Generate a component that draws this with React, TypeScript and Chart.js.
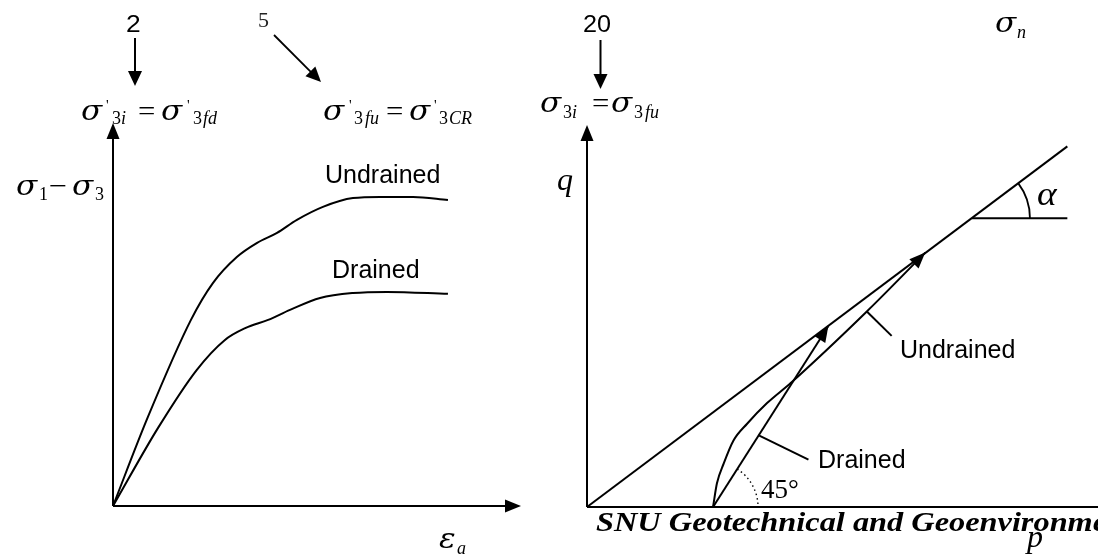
import React, { useEffect, useRef } from "react";
import { Chart, registerables } from "chart.js";

Chart.register(...registerables);

// ---- Left panel: deviator stress vs axial strain (sketch units) ----
const strainRange = [0, 10];
const deviatorRange = [0, 10];
const undrainedStrain = [0, 0.85, 1.92, 2.46, 3.05, 3.55, 4.04, 4.53, 5.17, 5.91, 6.58, 7.39, 8.25];
const undrainedDeviator = [0, 2.3, 4.86, 5.82, 6.5, 6.87, 7.13, 7.47, 7.81, 8.04, 8.07, 8.07, 7.99];
const drainedStrain = [0, 1.11, 2.06, 2.75, 3.27, 3.82, 4.36, 5.1, 5.91, 6.75, 8.25];
const drainedDeviator = [0, 2.04, 3.55, 4.33, 4.65, 4.86, 5.12, 5.43, 5.56, 5.59, 5.54];

// ---- Right panel: stress paths in p-q space (sketch units) ----
const pRange = [0, 10.5];
const qRange = [0, 5];
const failureP = [0, 9.87];
const failureQ = [0, 4.72];
const alphaRefP = [7.91, 9.87];
const alphaRefQ = [3.78, 3.78];
const drainedPathP = [2.59, 4.96];
const drainedPathQ = [0, 2.37];
const undrainedPathP = [2.59, 2.67, 2.81, 3.01, 3.29, 3.7, 4.18, 5.75, 6.95];
const undrainedPathQ = [0, 0.31, 0.57, 0.87, 1.09, 1.36, 1.62, 2.56, 3.33];
const undrainedLeaderP = [5.75, 6.26];
const undrainedLeaderQ = [2.56, 2.24];
const drainedLeaderP = [3.52, 4.55];
const drainedLeaderQ = [0.94, 0.62];

// ---- Text labels ----
const curveLabels = ["Undrained", "Drained"];
const topNumbers = ["2", "5", "20"];
const footer = "SNU Geotechnical and Geoenvironmental Engineering Lab.";

const SERIF = "'Liberation Serif', 'Times New Roman', serif";
const SANS = "'Liberation Sans', Arial, sans-serif";
const GREEK = "'DejaVu Serif', serif";

const pts = (xs: number[], ys: number[]) => xs.map((x, i) => ({ x, y: ys[i] }));

function lineDs(xs: number[], ys: number[], extra: any = {}) {
  return {
    data: pts(xs, ys),
    showLine: true,
    borderColor: "#000",
    backgroundColor: "#000",
    borderWidth: 2,
    pointRadius: 0,
    pointHoverRadius: 0,
    fill: false,
    clip: false,
    tension: 0,
    ...extra,
  };
}

function arrowHead(ctx: CanvasRenderingContext2D, tx: number, ty: number, ang: number, len = 16, half = 6.5) {
  const bx = tx - len * Math.cos(ang);
  const by = ty - len * Math.sin(ang);
  const nx = -Math.sin(ang) * half;
  const ny = Math.cos(ang) * half;
  ctx.beginPath();
  ctx.moveTo(tx, ty);
  ctx.lineTo(bx + nx, by + ny);
  ctx.lineTo(bx - nx, by - ny);
  ctx.closePath();
  ctx.fill();
}

function arrow(ctx: CanvasRenderingContext2D, x1: number, y1: number, x2: number, y2: number, len = 15, half = 7) {
  const ang = Math.atan2(y2 - y1, x2 - x1);
  ctx.beginPath();
  ctx.moveTo(x1, y1);
  ctx.lineTo(x2 - (len - 2) * Math.cos(ang), y2 - (len - 2) * Math.sin(ang));
  ctx.stroke();
  arrowHead(ctx, x2, y2, ang, len, half);
}

function txt(ctx: CanvasRenderingContext2D, s: string, x: number, y: number, font: string, color = "#000", stretch = 1) {
  ctx.save();
  ctx.font = font;
  ctx.fillStyle = color;
  ctx.textBaseline = "alphabetic";
  ctx.textAlign = "left";
  ctx.translate(x, y);
  ctx.scale(stretch, 1);
  ctx.fillText(s, 0, 0);
  ctx.restore();
}

const big = `italic 27px ${GREEK}`;
const bigS = 1.15;
const sub = `18px ${SERIF}`;
const subI = `italic 18px ${SERIF}`;
const prime = `15px ${SERIF}`;
const eq = `28px ${SERIF}`;
const letter = `italic 32px ${SERIF}`;

const leftPlugin = {
  id: "leftDecor",
  afterDraw(chart: any) {
    const { ctx, chartArea: a, scales } = chart;
    const x0 = scales.x.getPixelForValue(strainRange[0]);
    const y0 = scales.y.getPixelForValue(deviatorRange[0]);
    ctx.save();
    ctx.strokeStyle = "#000";
    ctx.fillStyle = "#000";
    ctx.lineWidth = 2;
    arrow(ctx, x0, y0, x0, a.top, 16, 6.5);
    arrow(ctx, x0, y0, a.right + 2, y0, 16, 6.5);

    // top annotations
    txt(ctx, topNumbers[0], 126, 32, `24px ${SANS}`, "#000", 1.1);
    arrow(ctx, 135, 38, 135, 86, 15, 7);
    txt(ctx, topNumbers[1], 258, 27, `20px ${SERIF}`, "#222", 1.1);
    ctx.lineWidth = 1.8;
    arrow(ctx, 274, 35, 321, 82, 15, 7);

    // sigma'_3i = sigma'_3fd
    txt(ctx, "σ", 81, 120, big, "#000", bigS);
    txt(ctx, "'", 106, 110, prime);
    txt(ctx, "3", 112, 124, sub);
    txt(ctx, "i", 121, 124, subI);
    txt(ctx, "=", 138, 120, eq, "#000", 1.1);
    txt(ctx, "σ", 161, 120, big, "#000", bigS);
    txt(ctx, "'", 187, 110, prime);
    txt(ctx, "3", 193, 124, sub);
    txt(ctx, "fd", 203, 124, subI);

    // sigma'_3fu = sigma'_3CR
    txt(ctx, "σ", 323, 120, big, "#000", bigS);
    txt(ctx, "'", 349, 110, prime);
    txt(ctx, "3", 354, 124, sub);
    txt(ctx, "fu", 365, 124, subI);
    txt(ctx, "=", 386, 120, eq, "#000", 1.1);
    txt(ctx, "σ", 409, 120, big, "#000", bigS);
    txt(ctx, "'", 434, 110, prime);
    txt(ctx, "3", 439, 124, sub);
    txt(ctx, "CR", 449, 124, subI);

    // axis titles
    txt(ctx, "σ", 16, 195, big, "#000", bigS);
    txt(ctx, "1", 39, 200, sub);
    txt(ctx, "−", 49, 195, eq, "#000", 1.15);
    txt(ctx, "σ", 72, 195, big, "#000", bigS);
    txt(ctx, "3", 95, 200, sub);
    txt(ctx, "ε", 439, 548, big, "#000", bigS);
    txt(ctx, "a", 457, 554, subI);

    // curve labels
    txt(ctx, curveLabels[0], 325, 183, `25px ${SANS}`);
    txt(ctx, curveLabels[1], 332, 278, `25px ${SANS}`);
    ctx.restore();
  },
};

const rightPlugin = {
  id: "rightDecor",
  afterDraw(chart: any) {
    const { ctx, chartArea: a, scales } = chart;
    const sx = scales.x, sy = scales.y;
    const x0 = sx.getPixelForValue(pRange[0]);
    const y0 = sy.getPixelForValue(qRange[0]);
    ctx.save();
    ctx.strokeStyle = "#000";
    ctx.fillStyle = "#000";
    ctx.lineWidth = 2;
    arrow(ctx, x0, y0, x0, a.top, 16, 6.5);
    ctx.beginPath();
    ctx.moveTo(x0, y0);
    ctx.lineTo(a.right, y0);
    ctx.stroke();

    // arrowheads at ends of stress paths
    chart.data.datasets.forEach((ds: any, i: number) => {
      if (!ds.arrowEnd) return;
      const d = chart.getDatasetMeta(i).data;
      const p1 = d[d.length - 2], p2 = d[d.length - 1];
      const ang = Math.atan2(p2.y - p1.y, p2.x - p1.x);
      arrowHead(ctx, p2.x, p2.y, ang, 16, 6.5);
    });

    // alpha arc
    const fx0 = sx.getPixelForValue(failureP[0]), fy0 = sy.getPixelForValue(failureQ[0]);
    const fx1 = sx.getPixelForValue(failureP[1]), fy1 = sy.getPixelForValue(failureQ[1]);
    const fAng = Math.atan2(fy1 - fy0, fx1 - fx0);
    const ax = sx.getPixelForValue(alphaRefP[0]), ay = sy.getPixelForValue(alphaRefQ[0]);
    ctx.lineWidth = 1.8;
    ctx.beginPath();
    ctx.arc(ax, ay, 58, fAng, 0);
    ctx.stroke();
    txt(ctx, "α", 507, 205, `italic 34px ${SERIF}`, "#000", 1.1);

    // 45 degree dotted arc
    const dx0 = sx.getPixelForValue(drainedPathP[0]), dy0 = sy.getPixelForValue(drainedPathQ[0]);
    const dx1 = sx.getPixelForValue(drainedPathP[1]), dy1 = sy.getPixelForValue(drainedPathQ[1]);
    const dAng = Math.atan2(dy1 - dy0, dx1 - dx0);
    ctx.lineWidth = 1.4;
    ctx.setLineDash([1.5, 3]);
    ctx.beginPath();
    ctx.arc(dx0, dy0, 45, dAng, 0);
    ctx.stroke();
    ctx.setLineDash([]);
    txt(ctx, "45°", 231, 498, `27px ${SERIF}`);

    // labels
    txt(ctx, curveLabels[0], 370, 358, `25px ${SANS}`);
    txt(ctx, curveLabels[1], 288, 468, `25px ${SANS}`);

    // top annotations
    ctx.lineWidth = 2;
    txt(ctx, topNumbers[2], 53, 32, `24px ${SANS}`, "#000", 1.05);
    arrow(ctx, 70.5, 40, 70.5, 89, 15, 7);
    txt(ctx, "σ", 10, 112, big, "#000", bigS);
    txt(ctx, "3", 33, 118, sub);
    txt(ctx, "i", 42, 118, subI);
    txt(ctx, "=", 62, 112, eq, "#000", 1.1);
    txt(ctx, "σ", 81, 112, big, "#000", bigS);
    txt(ctx, "3", 104, 118, sub);
    txt(ctx, "fu", 115, 118, subI);
    txt(ctx, "σ", 465, 32, big, "#000", bigS);
    txt(ctx, "n", 487, 38, subI);

    // axis titles
    txt(ctx, "q", 27, 190, letter);
    txt(ctx, footer, 66, 531, `bold italic 28px ${SERIF}`, "#000", 1.155);
    txt(ctx, "p", 497, 547, letter);
    ctx.restore();
  },
};

export default function App() {
  const leftRef = useRef<HTMLCanvasElement | null>(null);
  const rightRef = useRef<HTMLCanvasElement | null>(null);

  useEffect(() => {
    document.body.style.margin = "0";
    const common = {
      animation: false as const,
      responsive: false,
      devicePixelRatio: 1,
      events: [] as any[],
    };
    const left = new Chart(leftRef.current!, {
      type: "scatter",
      data: {
        datasets: [
          lineDs(undrainedStrain, undrainedDeviator, { cubicInterpolationMode: "monotone" }),
          lineDs(drainedStrain, drainedDeviator, { cubicInterpolationMode: "monotone" }),
        ],
      },
      options: {
        ...common,
        layout: { padding: { left: 113, right: 11, top: 123, bottom: 52 } },
        scales: {
          x: { type: "linear", min: strainRange[0], max: strainRange[1], display: false },
          y: { type: "linear", min: deviatorRange[0], max: deviatorRange[1], display: false },
        },
        plugins: { legend: { display: false }, tooltip: { enabled: false } },
      },
      plugins: [leftPlugin],
    } as any);

    const right = new Chart(rightRef.current!, {
      type: "scatter",
      data: {
        datasets: [
          lineDs(failureP, failureQ),
          lineDs(alphaRefP, alphaRefQ),
          lineDs(drainedPathP, drainedPathQ, { arrowEnd: true }),
          lineDs(undrainedPathP, undrainedPathQ, { cubicInterpolationMode: "monotone", arrowEnd: true }),
          lineDs(undrainedLeaderP, undrainedLeaderQ),
          lineDs(drainedLeaderP, drainedLeaderQ),
        ],
      },
      options: {
        ...common,
        layout: { padding: { left: 57, right: 0, top: 125, bottom: 51 } },
        scales: {
          x: { type: "linear", min: pRange[0], max: pRange[1], display: false },
          y: { type: "linear", min: qRange[0], max: qRange[1], display: false },
        },
        plugins: { legend: { display: false }, tooltip: { enabled: false } },
      },
      plugins: [rightPlugin],
    } as any);

    return () => {
      left.destroy();
      right.destroy();
    };
  }, []);

  return (
    <div style={{ position: "absolute", left: 0, top: 0, width: 1098, height: 558, background: "#fff", overflow: "hidden" }}>
      <canvas ref={leftRef} width={530} height={558} style={{ position: "absolute", left: 0, top: 0, width: 530, height: 558 }} />
      <canvas ref={rightRef} width={568} height={558} style={{ position: "absolute", left: 530, top: 0, width: 568, height: 558 }} />
    </div>
  );
}
